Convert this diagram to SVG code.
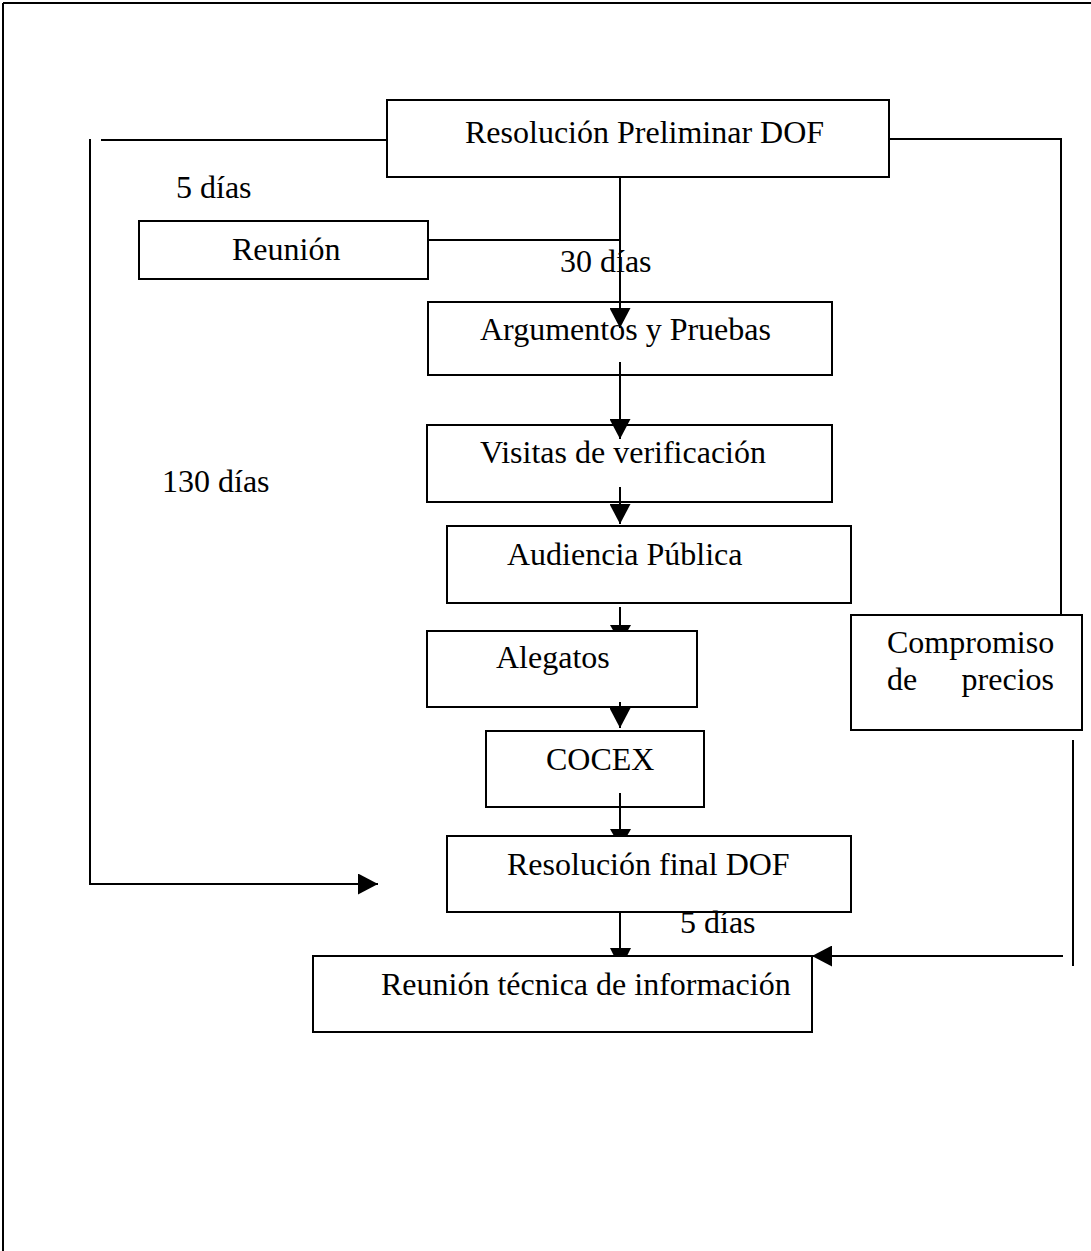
<svg xmlns="http://www.w3.org/2000/svg" width="1091" height="1251" viewBox="0 0 1091 1251">
<style>
.box{fill:#fff;stroke:#000;stroke-width:2}
.ln{fill:none;stroke:#000;stroke-width:2}
.ah{fill:#000;stroke:none}
text{font-family:"Liberation Serif","Times New Roman",serif;font-size:32px;fill:#000}
</style>
<defs>
<marker id="arr" markerUnits="userSpaceOnUse" markerWidth="21" markerHeight="21" refX="20" refY="10.5" orient="auto" viewBox="0 0 21 21">
<path d="M0,0 L20,10.5 L0,21 z" fill="#000"/>
</marker>
</defs>
<g id="frame">
<line class="ln" x1="3" y1="3" x2="1091" y2="3"/>
<line class="ln" x1="3" y1="3" x2="3" y2="1251"/>
</g>
<g id="n-preliminar"><rect class="box" x="387" y="100" width="502" height="77"/><text x="465" y="143">Resolución Preliminar DOF</text></g>
<g id="n-reunion"><rect class="box" x="139" y="221" width="289" height="58"/><text x="232" y="260">Reunión</text></g>
<g id="n-argumentos"><rect class="box" x="428" y="302" width="404" height="73"/><text x="480" y="340">Argumentos y Pruebas</text></g>
<g id="n-visitas"><rect class="box" x="427" y="425" width="405" height="77"/><text x="480" y="463">Visitas de verificación</text></g>
<g id="n-audiencia"><rect class="box" x="447" y="526" width="404" height="77"/><text x="507" y="565">Audiencia Pública</text></g>
<g id="n-compromiso"><rect class="box" x="851" y="615" width="231" height="115"/><text x="887" y="653">Compromiso</text><text x="887" y="690">de</text><text x="1054" y="690" text-anchor="end">precios</text></g>
<g id="n-alegatos"><rect class="box" x="427" y="631" width="270" height="76"/><text x="496" y="668">Alegatos</text></g>
<g id="n-cocex"><rect class="box" x="486" y="731" width="218" height="76"/><text x="546" y="770">COCEX</text></g>
<g id="n-final"><rect class="box" x="447" y="836" width="404" height="76"/><text x="507" y="875">Resolución final DOF</text></g>
<g id="n-tecnica"><rect class="box" x="313" y="956" width="499" height="76"/><text x="381" y="995">Reunión técnica de información</text></g>
<g id="labels">
<text x="176" y="198">5 días</text>
<text x="560" y="272">30 días</text>
<text x="162" y="492">130 días</text>
<text x="680" y="933">5 días</text>
</g>
<g id="connectors">
<line class="ln" x1="387" y1="140" x2="101" y2="140"/>
<polyline class="ln" points="90,139 90,884 378,884" marker-end="url(#arr)"/>
<polyline class="ln" points="889,139 1061,139 1061,615"/>
<line class="ln" x1="1073" y1="740" x2="1073" y2="966"/>
<line class="ln" x1="1063" y1="956" x2="812" y2="956" marker-end="url(#arr)"/>
<line class="ln" x1="620" y1="177" x2="620" y2="328" marker-end="url(#arr)"/>
<line class="ln" x1="428" y1="240" x2="620" y2="240"/>
<line class="ln" x1="620" y1="362" x2="620" y2="439" marker-end="url(#arr)"/>
<line class="ln" x1="620" y1="487" x2="620" y2="524" marker-end="url(#arr)"/>
<line class="ln" x1="620" y1="607" x2="620" y2="631"/>
<path class="ah" d="M610,625 L631,625 L627.5,631 L613.5,631 z"/>
<line class="ln" x1="620" y1="702" x2="620" y2="728" marker-end="url(#arr)"/>
<line class="ln" x1="620" y1="793" x2="620" y2="836"/>
<path class="ah" d="M610,829 L631,829 L627,836 L614,836 z"/>
<line class="ln" x1="620" y1="912" x2="620" y2="956"/>
<path class="ah" d="M610,948 L631,948 L627,956 L614,956 z"/>
</g>
</svg>
